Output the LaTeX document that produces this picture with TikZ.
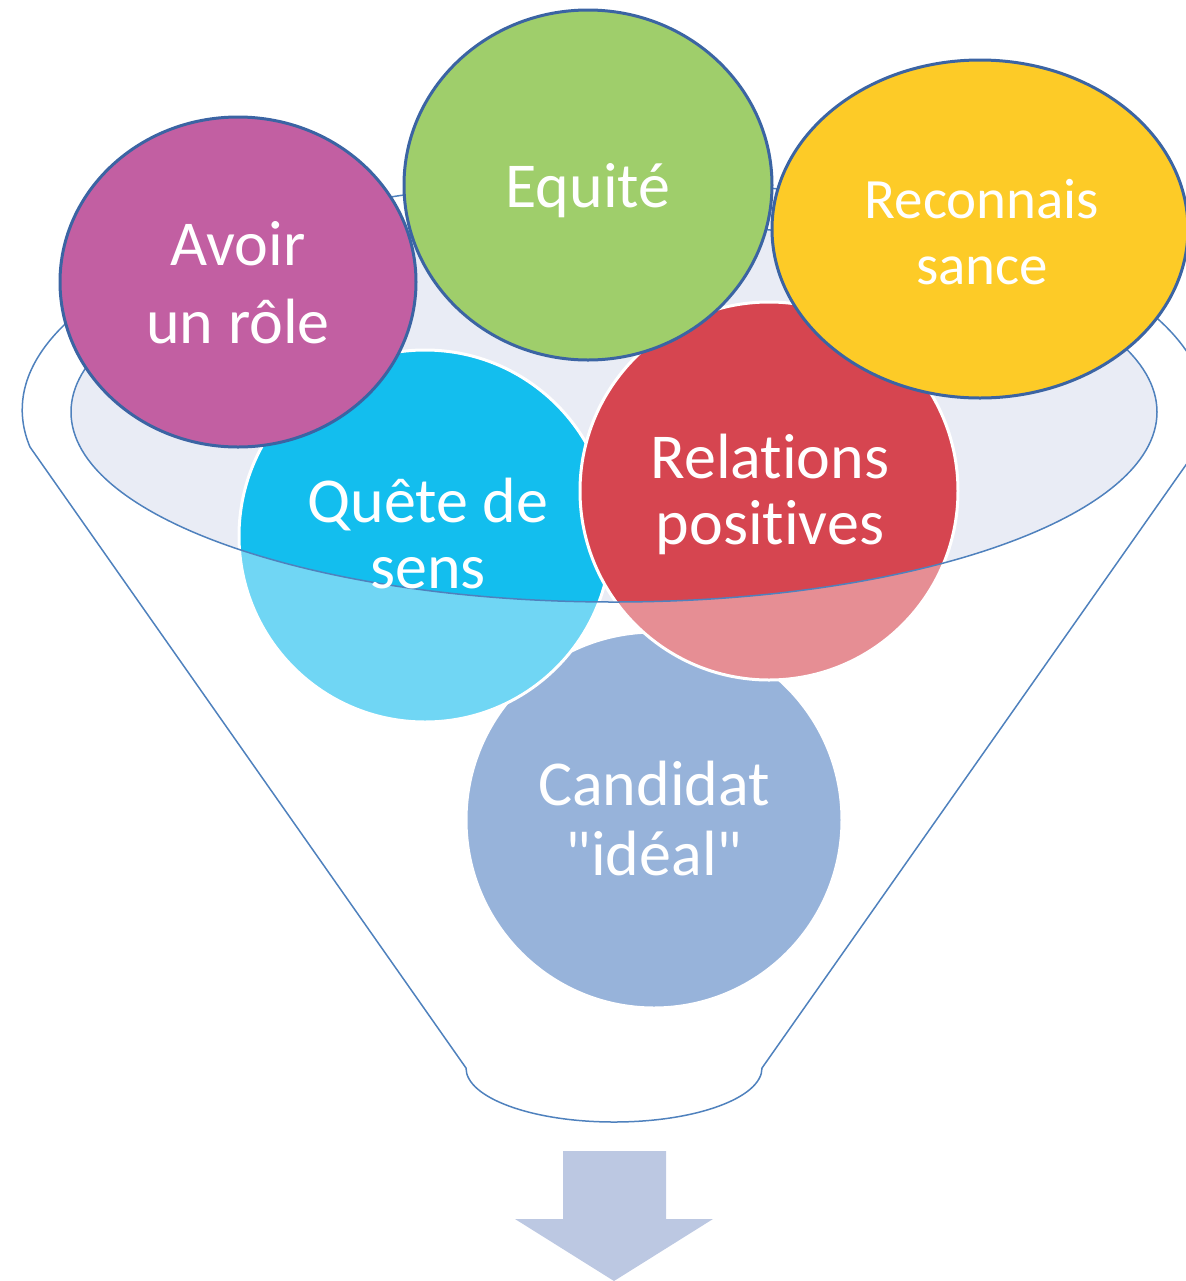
\documentclass[tikz,border=0pt]{standalone}
\usepackage{fontspec}
\setmainfont{Carlito}[Ligatures={NoCommon}]
\newfontfamily\calib{Carlito}[Ligatures={NoCommon}]
\definecolor{cMag}{RGB}{194,95,162}
\definecolor{cGreen}{RGB}{159,206,107}
\definecolor{cYellow}{RGB}{253,203,39}
\definecolor{cCyan}{RGB}{19,190,238}
\definecolor{cCyanL}{RGB}{112,214,244}
\definecolor{cRed}{RGB}{214,69,80}
\definecolor{cRedL}{RGB}{230,142,148}
\definecolor{cCand}{RGB}{151,179,218}
\definecolor{cArrow}{RGB}{188,200,226}
\definecolor{cLav}{RGB}{233,236,245}
\definecolor{cLine}{RGB}{79,129,189}
\definecolor{cDark}{RGB}{59,100,163}
\tikzset{
  funnelline/.style={draw=cLine, line width=0.75pt},
  topcirc/.style={draw=cDark, line width=1.5pt},
  lowcirc/.style={draw=white, line width=1.5pt},
  txt/.style={text=white, align=center, inner sep=0pt, font=\calib\fontsize{32}{35}\selectfont},
}
\begin{document}
\begin{tikzpicture}[x=0.5pt,y=-0.5pt]
\useasboundingbox (0,0) rectangle (1185,1281);
% outer funnel outline
\draw[funnelline, line join=round] (30,447) arc[start angle=170.74, end angle=369.26, x radius=592, y radius=230]
  -- (762,1068) arc[start angle=0, end angle=180, x radius=148, y radius=54] -- cycle;
% inner ellipse fill
\fill[cLav] (614,412) ellipse [x radius=543, y radius=190];
% Candidat circle
\fill[cCand] (654,820) circle [radius=188];
\draw[lowcirc] (654,820) circle [radius=188];
% Quete de sens
\fill[cCyanL] (425,536) circle [radius=186];
\begin{scope}
  \clip (614,412) ellipse [x radius=543, y radius=190];
  \fill[cCyan] (425,536) circle [radius=186];
\end{scope}
\draw[lowcirc] (425,536) circle [radius=186];
% Relations positives
\fill[cRedL] (769,491) circle [radius=189];
\begin{scope}
  \clip (614,412) ellipse [x radius=543, y radius=190];
  \fill[cRed] (769,491) circle [radius=189];
\end{scope}
\draw[lowcirc] (769,491) circle [radius=189];
% inner ellipse outline
\draw[funnelline] (614,412) ellipse [x radius=543, y radius=190];
% top circles
\filldraw[topcirc, fill=cMag] (238,282) ellipse [x radius=178, y radius=165];
\filldraw[topcirc, fill=cGreen] (588,185) ellipse [x radius=184, y radius=175];
\filldraw[topcirc, fill=cYellow] (980,229) ellipse [x radius=208, y radius=169];
% texts
\node[txt, font=\calib\fontsize{32}{39}\selectfont] (avoir) at (238,283) {Avoir\\un rôle};
\node[txt] (equite) at (588,191) {Equité};
\node[txt, font=\calib\fontsize{28.5}{33}\selectfont] (reco) at (982,232) {Reconnais\\sance};
\node[txt, font=\calib\fontsize{32}{33}\selectfont] (quete) at (428,534) {Quête de\\sens};
\node[txt, font=\calib\fontsize{32}{33}\selectfont] (relations) at (770,494) {Relations\\positives};
\node[txt] (candidat) at (654,819) {Candidat\\"idéal"};
% arrow
\fill[cArrow] (563,1151) -- (666,1151) -- (666,1219) -- (713,1219) -- (614,1281) -- (515,1219) -- (563,1219) -- cycle;
\end{tikzpicture}
\end{document}
